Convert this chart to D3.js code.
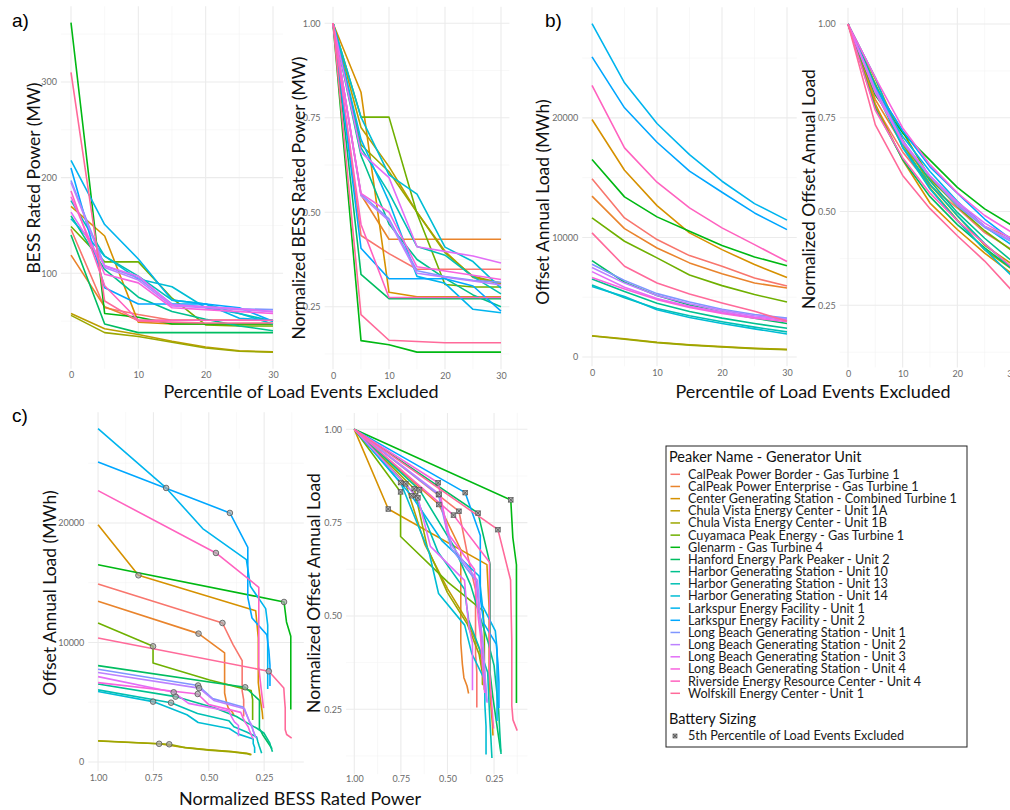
<!DOCTYPE html>
<html>
<head>
<meta charset="utf-8">
<script src="https://cdn.jsdelivr.net/npm/d3@7"></script>
<style>
  body { margin: 0; background: #fff; }
  svg { display: block; }
  text { font-family: Lato, "Noto Sans", sans-serif; }
</style>
</head>
<body>
<svg id="fig" width="1010" height="810"></svg>
<script>
// ---- data -------------------------------------------------------------
const peakers = [
  "CalPeak Power Border - Gas Turbine 1",
  "CalPeak Power Enterprise - Gas Turbine 1",
  "Center Generating Station - Combined Turbine 1",
  "Chula Vista Energy Center - Unit 1A",
  "Chula Vista Energy Center - Unit 1B",
  "Cuyamaca Peak Energy - Gas Turbine 1",
  "Glenarm - Gas Turbine 4",
  "Hanford Energy Park Peaker - Unit 2",
  "Harbor Generating Station - Unit 10",
  "Harbor Generating Station - Unit 13",
  "Harbor Generating Station - Unit 14",
  "Larkspur Energy Facility - Unit 1",
  "Larkspur Energy Facility - Unit 2",
  "Long Beach Generating Station - Unit 1",
  "Long Beach Generating Station - Unit 2",
  "Long Beach Generating Station - Unit 3",
  "Long Beach Generating Station - Unit 4",
  "Riverside Energy Resource Center - Unit 4",
  "Wolfskill Energy Center - Unit 1"
];

// percentile of load events excluded
const percentiles = [0, 5, 10, 15, 20, 25, 30, 35, 40, 45, 50];

// BESS rated power (MW) per peaker, one value per percentile
const ratedPowerMW = [
  [146, 64, 57, 51, 51, 51, 51, 50, 50, 50, 50],
  [119, 65, 51, 51, 51, 51, 51, 50, 49, 47, 46],
  [170, 139, 49, 47, 47, 47, 47, 46, 45, 44, 43.5],
  [58, 42, 36, 29, 23, 19, 18, 18, 18, 18, 18],
  [56, 38, 34, 28, 22, 18.5, 17.5, 17.5, 17.5, 17.5, 17.5],
  [149, 112, 112, 74, 46, 45, 45, 45, 45, 45, 45],
  [362, 58, 54, 47, 47, 47, 47, 47, 47, 47, 47],
  [140, 47, 38, 38, 38, 38, 38, 36, 34, 32, 30],
  [160, 104, 75, 60, 52, 45, 40, 38, 36, 35, 34],
  [176, 118, 97, 72, 68, 58, 50, 49, 48, 47, 46],
  [157, 118, 94, 86, 64, 58, 47, 47, 46, 46, 46],
  [218, 151, 115, 72, 68, 53, 51, 51, 51, 51, 51],
  [210, 85, 68, 68, 68, 64, 50, 48, 47, 47, 47],
  [197, 108, 95, 68, 65, 63, 62, 60, 59, 58, 57],
  [195, 106, 93, 66, 64, 62, 60, 59, 58, 57, 56],
  [164, 108, 97, 67, 65, 63, 60, 60, 60, 60, 60],
  [180, 99, 90, 64, 62, 60, 58, 57, 56, 55, 54],
  [186, 87, 51, 51, 51, 51, 51, 50, 49, 48, 47],
  [310, 71, 50, 49, 48, 48, 48, 48, 47, 46, 39]
];

// offset annual load (MWh) per peaker, one value per percentile
const offsetLoadMWh = [
  [14900, 11630, 9820, 8480, 7590, 6610, 5940, 5200, 4600, 4150, 3800],
  [13450, 10740, 9120, 7870, 6970, 6190, 5770, 5000, 4500, 4200, 3930],
  [19860, 15620, 12660, 10380, 8980, 7730, 6640, 5700, 4900, 4200, 3570],
  [1780, 1520, 1230, 1020, 870, 730, 640, 610, 590, 575, 560],
  [1760, 1480, 1200, 990, 840, 700, 610, 590, 575, 565, 555],
  [11630, 9680, 8290, 6860, 5970, 5220, 4600, 4200, 3900, 3700, 3515],
  [16510, 13390, 11720, 10520, 9320, 8370, 7640, 6800, 6000, 5200, 4400],
  [8060, 6250, 5150, 4350, 3750, 3250, 2800, 2300, 1900, 1500, 1100],
  [6530, 5470, 4500, 3800, 3250, 2800, 2400, 2000, 1600, 1200, 850],
  [6030, 4960, 4050, 3450, 2950, 2500, 2100, 1700, 1350, 1050, 720],
  [5890, 5050, 3950, 3300, 2800, 2350, 1930, 1550, 1200, 950, 760],
  [27890, 22930, 19530, 16930, 14700, 12830, 11450, 10000, 8600, 7300, 6100],
  [25100, 20840, 17960, 15540, 13780, 12050, 10650, 9300, 8100, 7200, 6360],
  [7760, 6400, 5300, 4600, 4000, 3550, 3250, 2900, 2600, 2350, 2100],
  [7480, 6180, 5150, 4450, 3900, 3450, 3150, 2800, 2500, 2250, 2000],
  [7140, 5830, 4900, 4250, 3750, 3350, 3050, 2750, 2500, 2300, 2150],
  [6640, 5690, 4800, 4150, 3650, 3250, 2950, 2650, 2400, 2150, 1950],
  [22710, 17490, 14620, 12470, 10800, 9400, 7980, 7000, 6100, 5300, 4500],
  [10380, 7590, 6190, 5270, 4520, 3820, 3000, 2700, 2500, 2300, 2000]
];

const pctMaxTimeSeries = 30;   // panels a and b show 0-30
const markedPercentile = 5;    // battery sizing marker in panel c

const pctTicks = [0, 10, 20, 30];
const pctMinor = [5, 15, 25];
const normTicks = [0.25, 0.5, 0.75, 1.0];
const normMinor = [0.125, 0.375, 0.625, 0.875];
const powerTicks = [100, 200, 300];
const powerMinor = [50, 150, 250, 350];
const loadTicks = [0, 10000, 20000];
const loadMinor = [5000, 15000, 25000];

// ---- colours: ggplot-style hue palette (polar LUV) --------------------
function hclToHex(h, c, l) {
  const Xn = 95.047, Yn = 100.0, Zn = 108.883;
  const un = 4 * Xn / (Xn + 15 * Yn + 3 * Zn);
  const vn = 9 * Yn / (Xn + 15 * Yn + 3 * Zn);
  const hr = h * Math.PI / 180;
  const u = c * Math.cos(hr), v = c * Math.sin(hr);
  const Y = l > 8 ? Yn * Math.pow((l + 16) / 116, 3) : Yn * l / 903.3;
  const up = u / (13 * l) + un, vp = v / (13 * l) + vn;
  const X = 9.0 * Y * up / (4 * vp);
  const Z = -X / 3 - 5 * Y + 3 * Y / vp;
  const x = X / 100, y = Y / 100, z = Z / 100;
  const lin = [
    3.240479 * x - 1.537150 * y - 0.498535 * z,
    -0.969256 * x + 1.875992 * y + 0.041556 * z,
    0.055648 * x - 0.204043 * y + 1.057311 * z
  ];
  const gam = t => {
    t = t <= 0.0031308 ? 12.92 * t : 1.055 * Math.pow(t, 1 / 2.4) - 0.055;
    return Math.round(255 * Math.max(0, Math.min(1, t)));
  };
  return d3.rgb(gam(lin[0]), gam(lin[1]), gam(lin[2])).formatHex();
}
const palette = peakers.map((_, i) => hclToHex(15 + 360 * i / peakers.length, 100, 65));

// ---- derived series -------------------------------------------------
const series = peakers.map((name, i) => {
  const p0 = ratedPowerMW[i][0], l0 = offsetLoadMWh[i][0];
  return {
    name, color: palette[i],
    pts: percentiles.map((pct, j) => ({
      pct,
      power: ratedPowerMW[i][j],
      load: offsetLoadMWh[i][j],
      powerN: ratedPowerMW[i][j] / p0,
      loadN: offsetLoadMWh[i][j] / l0
    }))
  };
});

// ---- drawing ----------------------------------------------------------
const svg = d3.select("#fig");
svg.append("rect").attr("width", 1010).attr("height", 810).attr("fill", "#fff");

const GRID_MAJOR = "#ebebeb", GRID_MINOR = "#f4f4f4";
const TICK_COLOR = "#6b6b6b";
const LINE_WIDTH = 1.6;

function panel(cfg) {
  const g = svg.append("g");
  const x = d3.scaleLinear().domain(cfg.xDomain).range([cfg.left, cfg.right]);
  const y = d3.scaleLinear().domain(cfg.yDomain).range([cfg.bottom, cfg.top]);

  const grid = (vals, isX, col, w) => g.append("g").selectAll("line").data(vals).join("line")
    .attr("x1", d => isX ? x(d) : cfg.left).attr("x2", d => isX ? x(d) : cfg.right)
    .attr("y1", d => isX ? cfg.top : y(d)).attr("y2", d => isX ? cfg.bottom : y(d))
    .attr("stroke", col).attr("stroke-width", w);
  grid(cfg.xMinor, true, GRID_MINOR, 0.6);
  grid(cfg.yMinor, false, GRID_MINOR, 0.6);
  grid(cfg.xTicks, true, GRID_MAJOR, 1.1);
  grid(cfg.yTicks, false, GRID_MAJOR, 1.1);

  const ax = g.append("g").attr("transform", `translate(0,${cfg.bottom})`)
    .call(d3.axisBottom(x).tickValues(cfg.xTicks).tickFormat(cfg.xFmt).tickSize(0).tickPadding(cfg.xPad || 3));
  const ay = g.append("g").attr("transform", `translate(${cfg.left},0)`)
    .call(d3.axisLeft(y).tickValues(cfg.yTicks).tickFormat(cfg.yFmt).tickSize(0).tickPadding(4));
  [ax, ay].forEach(a => {
    a.select(".domain").remove();
    a.selectAll("text").attr("fill", TICK_COLOR).style("font-size", "9px")
      .style("font-family", "Lato, 'Noto Sans', sans-serif");
  });

  const line = d3.line().x(d => x(d[cfg.xKey])).y(d => y(d[cfg.yKey]));
  const clipId = "clip" + cfg.id;
  svg.append("clipPath").attr("id", clipId).append("rect")
    .attr("x", cfg.left).attr("y", cfg.top)
    .attr("width", cfg.right - cfg.left).attr("height", cfg.bottom - cfg.top);
  const lg = g.append("g").attr("clip-path", `url(#${clipId})`);
  lg.selectAll("path").data(series).join("path")
    .attr("d", s => line(s.pts.filter(cfg.filter || (() => true))))
    .attr("fill", "none").attr("stroke", s => s.color)
    .attr("stroke-width", LINE_WIDTH).attr("stroke-linejoin", "round").attr("stroke-linecap", "butt");

  if (cfg.marker) {
    const marks = series.map(s => s.pts.find(p => p.pct === markedPercentile));
    const mg = g.append("g");
    if (cfg.marker === "circle") {
      mg.selectAll("circle").data(marks).join("circle")
        .attr("cx", d => x(d[cfg.xKey])).attr("cy", d => y(d[cfg.yKey])).attr("r", 2.8)
        .attr("fill", "#a8a8a8").attr("fill-opacity", 0.7).attr("stroke", "#555").attr("stroke-width", 0.8);
    } else {
      const sq = mg.selectAll("g").data(marks).join("g")
        .attr("transform", d => `translate(${x(d[cfg.xKey])},${y(d[cfg.yKey])})`);
      squareCross(sq, 2.3);
    }
  }
  return { x, y };
}

function squareCross(sel, r) {
  sel.append("rect").attr("x", -r).attr("y", -r).attr("width", 2 * r).attr("height", 2 * r)
    .attr("fill", "#b0b0b0").attr("stroke", "#555").attr("stroke-width", 0.7);
  sel.append("path").attr("d", `M${-r},${-r}L${r},${r}M${-r},${r}L${r},${-r}`)
    .attr("stroke", "#444").attr("stroke-width", 0.7);
}

const fmtInt = d3.format("d");
const fmtNorm = d3.format(".2f");
const inTimeRange = p => p.pct <= pctMaxTimeSeries;

// a) rated power
panel({ id: "a1", left: 60.9, right: 283.1, top: 6.2, bottom: 368.7,
  xDomain: [-1.5, 31.5], yDomain: [0.3, 379.2],
  xTicks: pctTicks, xMinor: pctMinor, yTicks: powerTicks, yMinor: powerMinor,
  xFmt: fmtInt, yFmt: fmtInt, xKey: "pct", yKey: "power", filter: inTimeRange });
panel({ id: "a2", left: 324.6, right: 509.4, top: 6.8, bottom: 369.3,
  xDomain: [-1.5, 31.5], yDomain: [0.0844, 1.0436],
  xTicks: pctTicks, xMinor: pctMinor, yTicks: normTicks, yMinor: normMinor,
  xFmt: fmtInt, yFmt: fmtNorm, xKey: "pct", yKey: "powerN", filter: inTimeRange });

// b) offset load
panel({ id: "b1", left: 582.25, right: 796.75, top: 7.3, bottom: 366.3,
  xDomain: [-1.5, 31.5], yDomain: [-778, 29247],
  xTicks: pctTicks, xMinor: pctMinor, yTicks: loadTicks, yMinor: loadMinor,
  xFmt: fmtInt, yFmt: fmtInt, xKey: "pct", yKey: "load", filter: inTimeRange });
panel({ id: "b2", left: 839.8, right: 1020.2, top: 7.7, bottom: 367.4,
  xDomain: [-1.5, 31.5], yDomain: [0.0844, 1.0436],
  xTicks: pctTicks, xMinor: pctMinor, yTicks: normTicks, yMinor: normMinor,
  xFmt: fmtInt, yFmt: fmtNorm, xKey: "pct", yKey: "loadN", filter: inTimeRange });

// c) offset load against normalized power
panel({ id: "c1", left: 88.3, right: 303.8, top: 412.2, bottom: 771.1,
  xDomain: [1.044, 0.071], yDomain: [-765, 29270],
  xTicks: normTicks, xMinor: normMinor, yTicks: loadTicks, yMinor: loadMinor,
  xFmt: fmtNorm, yFmt: fmtInt, xKey: "powerN", yKey: "load", xPad: 3.5, marker: "circle" });
panel({ id: "c2", left: 346.1, right: 527.4, top: 412.9, bottom: 774.2,
  xDomain: [1.044, 0.071], yDomain: [0.076, 1.044],
  xTicks: normTicks, xMinor: normMinor, yTicks: normTicks, yMinor: normMinor,
  xFmt: fmtNorm, yFmt: fmtNorm, xKey: "powerN", yKey: "loadN", xPad: 1.5, marker: "square" });

// ---- titles -------------------------------------------------------------
function title(txt, x, y, size, rot) {
  const t = svg.append("text").text(txt).attr("fill", "#111").style("font-size", size + "px")
    .attr("text-anchor", "middle");
  if (rot) t.attr("transform", `translate(${x},${y}) rotate(-90)`).attr("dy", "0.35em");
  else t.attr("x", x).attr("y", y);
}
title("Percentile of Load Events Excluded", 301, 398, 18);
title("Percentile of Load Events Excluded", 813, 398, 18);
title("Normalized BESS Rated Power", 300, 805, 18);
title("BESS Rated Power (MW)", 33.5, 178, 17.5, true);
title("Normalized BESS Rated Power (MW)", 298.5, 198, 17.5, true);
title("Offset Annual Load (MWh)", 543, 202, 17.5, true);
title("Normalized Offset Annual Load", 809, 189, 17.5, true);
title("Offset Annual Load (MWh)", 50, 593, 17.5, true);
title("Normalized Offset Annual Load", 314, 593, 17.5, true);

[["a)", 12, 27], ["b)", 545, 27], ["c)", 12, 422]].forEach(([t, x, y]) =>
  svg.append("text").text(t).attr("x", x).attr("y", y).attr("fill", "#000")
    .style("font-family", "'Liberation Sans', Arial, sans-serif").style("font-size", "19px"));

// ---- legend ---------------------------------------------------------------
const lg = svg.append("g");
lg.append("rect").attr("x", 666).attr("y", 446).attr("width", 301).attr("height", 301)
  .attr("fill", "#fff").attr("stroke", "#222").attr("stroke-width", 1);
lg.append("text").text("Peaker Name - Generator Unit").attr("x", 669).attr("y", 462)
  .attr("fill", "#111").style("font-size", "14.5px");
const rowY = d3.scaleLinear().domain([0, peakers.length - 1]).range([474.3, 693.3]);
const rows = lg.selectAll("g.row").data(series).join("g").attr("class", "row")
  .attr("transform", (d, i) => `translate(0,${rowY(i)})`);
rows.append("line").attr("x1", 670.5).attr("x2", 680).attr("stroke", d => d.color).attr("stroke-width", 1.5);
rows.append("text").text(d => d.name).attr("x", 688).attr("dy", "0.35em")
  .attr("fill", "#1a1a1a").style("font-size", "12.7px");
lg.append("text").text("Battery Sizing").attr("x", 669).attr("y", 724)
  .attr("fill", "#111").style("font-size", "14.5px");
const key = lg.append("g").attr("transform", "translate(675,736)");
squareCross(key, 2);
lg.append("text").text("5th Percentile of Load Events Excluded").attr("x", 688).attr("y", 736)
  .attr("dy", "0.35em").attr("fill", "#1a1a1a").style("font-size", "12.7px");
</script>
</body>
</html>
